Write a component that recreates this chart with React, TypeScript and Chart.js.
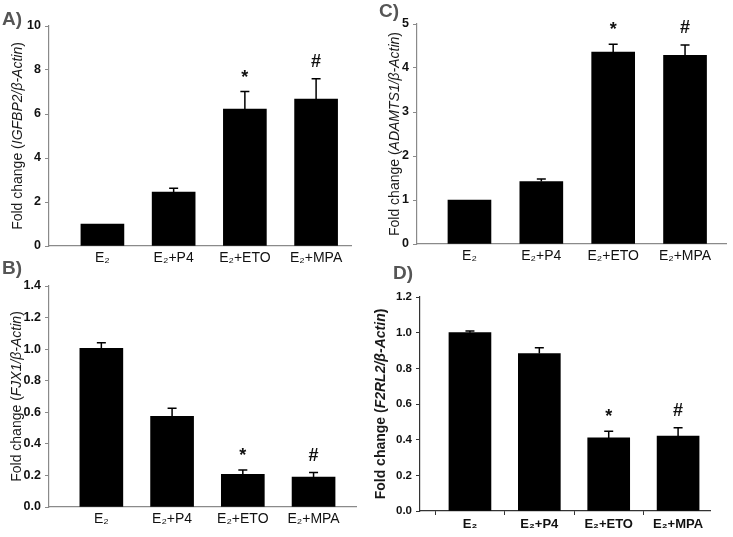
import React, { useEffect, useRef } from "react";
import { Chart, registerables } from "chart.js";

Chart.register(...registerables);

// ---------- data ----------
const categories = ["E₂", "E₂+P4", "E₂+ETO", "E₂+MPA"];
const significance = ["", "", "*", "#"];

const igfbp2Values = [1.0, 2.45, 6.22, 6.68];
const igfbp2Errors = [0, 0.18, 0.8, 0.92];
const igfbp2Ticks = [0, 2, 4, 6, 8, 10];

const fjx1Values = [1.005, 0.575, 0.207, 0.19];
const fjx1Errors = [0.035, 0.05, 0.028, 0.028];
const fjx1Ticks = [0, 0.2, 0.4, 0.6, 0.8, 1.0, 1.2, 1.4];

const adamts1Values = [1.0, 1.42, 4.36, 4.29];
const adamts1Errors = [0, 0.06, 0.18, 0.23];
const adamts1Ticks = [0, 1, 2, 3, 4, 5];

const f2rl2Values = [1.0, 0.883, 0.41, 0.42];
const f2rl2Errors = [0.01, 0.033, 0.037, 0.047];
const f2rl2Ticks = [0, 0.2, 0.4, 0.6, 0.8, 1.0, 1.2];

const FONT = '"Liberation Sans", Arial, Helvetica, sans-serif';

type Panel = {
  label: string;
  gene: string;
  values: number[];
  errors: number[];
  ticks: number[];
  decimals: number;
  left: number;
  top: number;
  width: number;
  height: number;
  yWidth: number;
  xHeight: number;
  padTop: number;
  padRight: number;
  xMin: number;
  xMax: number;
  barW: number;
  axisColor: string;
  titleX: number;
  bold: boolean;
  xTickMarks: boolean;
  labelX: number;
  labelY: number;
};

const panels: Panel[] = [
  {
    label: "A)", gene: "IGFBP2", values: igfbp2Values, errors: igfbp2Errors, ticks: igfbp2Ticks, decimals: 0,
    left: 0, top: 14, width: 360, height: 266, yWidth: 49, xHeight: 34, padTop: 12, padRight: 9,
    xMin: -0.75, xMax: 3.49, barW: 43, axisColor: "#8a8a8a", titleX: 18, bold: false, xTickMarks: false,
    labelX: 2, labelY: 9,
  },
  {
    label: "B)", gene: "FJX1", values: fjx1Values, errors: fjx1Errors, ticks: fjx1Ticks, decimals: 1,
    left: 0, top: 274, width: 362, height: 263, yWidth: 49, xHeight: 30, padTop: 12, padRight: 6,
    xMin: -0.74, xMax: 3.6, barW: 43, axisColor: "#8a8a8a", titleX: 17, bold: false, xTickMarks: false,
    labelX: 2, labelY: 258,
  },
  {
    label: "C)", gene: "ADAMTS1", values: adamts1Values, errors: adamts1Errors, ticks: adamts1Ticks, decimals: 0,
    left: 363, top: 12, width: 370, height: 268, yWidth: 54, xHeight: 36, padTop: 12, padRight: 7,
    xMin: -0.73, xMax: 3.57, barW: 43, axisColor: "#8a8a8a", titleX: 32, bold: false, xTickMarks: false,
    labelX: 379, labelY: 1,
  },
  {
    label: "D)", gene: "F2RL2", values: f2rl2Values, errors: f2rl2Errors, ticks: f2rl2Ticks, decimals: 1,
    left: 363, top: 284, width: 370, height: 253, yWidth: 57, xHeight: 26, padTop: 13, padRight: 23,
    xMin: -0.72, xMax: 3.46, barW: 42, axisColor: "#333333", titleX: 18, bold: true, xTickMarks: true,
    labelX: 393, labelY: 263,
  },
];

function PanelChart({ p }: { p: Panel }) {
  const ref = useRef<HTMLCanvasElement | null>(null);

  useEffect(() => {
    const canvas = ref.current;
    if (!canvas) return;

    const overlay = {
      id: "overlay" + p.label,
      afterDatasetsDraw(chart: any) {
        const { ctx, scales, chartArea } = chart;
        const xs = scales.x;
        const ys = scales.y;
        ctx.save();
        // error bars
        ctx.strokeStyle = "#000";
        ctx.lineWidth = 1.5;
        p.values.forEach((v, i) => {
          const e = p.errors[i];
          const cx = xs.getPixelForValue(i);
          const yTop = ys.getPixelForValue(v);
          const yErr = ys.getPixelForValue(v + e);
          if (e > 0) {
            ctx.beginPath();
            ctx.moveTo(cx, yTop);
            ctx.lineTo(cx, yErr);
            ctx.moveTo(cx - 4.5, yErr);
            ctx.lineTo(cx + 4.5, yErr);
            ctx.stroke();
          }
          const mark = significance[i];
          if (mark) {
            ctx.fillStyle = "#111";
            ctx.font = (mark === "#" ? "bold 18px " : "bold 18px ") + FONT;
            ctx.textAlign = "center";
            ctx.textBaseline = "middle";
            ctx.fillText(mark, cx, yErr - (mark === "*" ? 14 : 17));
          }
        });
        // y-axis title with italic gene name
        const weight = p.bold ? "bold " : "";
        const size = 14;
        const segs = [
          { t: "Fold change (", it: false },
          { t: p.gene + "/β-Actin", it: true },
          { t: ")", it: false },
        ];
        const fontFor = (it: boolean) => (it ? "italic " : "") + weight + size + "px " + FONT;
        let total = 0;
        const widths = segs.map((s) => {
          ctx.font = fontFor(s.it);
          const w = ctx.measureText(s.t).width;
          total += w;
          return w;
        });
        const cy = (chartArea.top + chartArea.bottom) / 2;
        ctx.translate(p.titleX, cy);
        ctx.rotate(-Math.PI / 2);
        ctx.fillStyle = "#1a1a1a";
        ctx.textAlign = "left";
        ctx.textBaseline = "middle";
        let x = -total / 2;
        segs.forEach((s, i) => {
          ctx.font = fontFor(s.it);
          ctx.fillText(s.t, x, 0);
          x += widths[i];
        });
        ctx.restore();
      },
    };

    const chart = new Chart(canvas, {
      type: "bar",
      data: {
        datasets: [
          {
            data: p.values.map((v, i) => ({ x: i, y: v })),
            backgroundColor: "#000",
            borderColor: "#1a1a1a",
            borderWidth: 0,
            barThickness: p.barW,
          },
        ],
      },
      options: {
        responsive: false,
        animation: false,
        devicePixelRatio: 1,
        layout: { padding: { top: p.padTop, right: p.padRight, left: 0, bottom: 0 } },
        plugins: { legend: { display: false }, tooltip: { enabled: false }, title: { display: false } },
        scales: {
          x: {
            type: "linear",
            offset: false,
            min: p.xMin,
            max: p.xMax,
            afterBuildTicks: (scale: any) => {
              scale.ticks = categories.map((_, i) => ({ value: i }));
            },
            afterFit: (scale: any) => {
              scale.height = p.xHeight;
            },
            ticks: {
              autoSkip: false,
              maxRotation: 0,
              padding: p.xTickMarks ? 2 : 4,
              color: "#111",
              font: { family: FONT, size: p.bold ? 13 : 14, weight: p.bold ? "bold" : "normal" },
              callback: (v: any) => categories[v as number] ?? "",
            },
            grid: {
              display: p.xTickMarks,
              drawOnChartArea: false,
              drawTicks: p.xTickMarks,
              tickLength: 4,
              color: p.axisColor,
            },
            border: { display: true, color: p.axisColor, width: 1.2 },
          },
          y: {
            min: 0,
            max: p.ticks[p.ticks.length - 1],
            afterBuildTicks: (scale: any) => {
              scale.ticks = p.ticks.map((v) => ({ value: v }));
            },
            afterFit: (scale: any) => {
              scale.width = p.yWidth;
            },
            ticks: {
              padding: 4,
              color: "#111",
              font: { family: FONT, size: p.bold ? 11.5 : 12.5, weight: "bold" },
              callback: (v: any) => Number(v).toFixed(p.decimals),
            },
            grid: {
              display: true,
              drawOnChartArea: false,
              drawTicks: true,
              tickLength: 4,
              color: p.axisColor,
            },
            border: { display: true, color: p.axisColor, width: 1.2 },
          },
        },
      } as any,
      plugins: [overlay],
    });
    return () => chart.destroy();
  }, [p]);

  return (
    <canvas
      ref={ref}
      width={p.width}
      height={p.height}
      style={{ position: "absolute", left: p.left, top: p.top, width: p.width, height: p.height }}
    />
  );
}

export default function App() {
  return (
    <div
      style={{
        position: "fixed",
        left: 0,
        top: 0,
        width: 733,
        height: 537,
        background: "#fff",
        overflow: "hidden",
        fontFamily: FONT,
      }}
    >
      {panels.map((p) => (
        <PanelChart key={p.label} p={p} />
      ))}
      {panels.map((p) => (
        <div
          key={"lbl" + p.label}
          style={{
            position: "absolute",
            left: p.labelX,
            top: p.labelY,
            fontSize: 19,
            fontWeight: "bold",
            lineHeight: 1,
            color: "#555",
          }}
        >
          {p.label}
        </div>
      ))}
    </div>
  );
}
